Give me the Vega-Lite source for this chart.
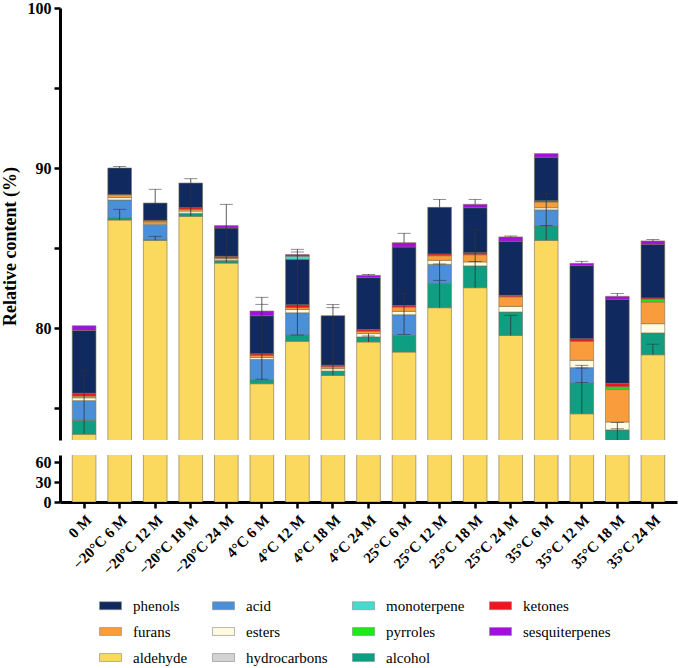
{
  "$schema": "https://vega.github.io/schema/vega-lite/v6.json",
  "padding": {"left": 1, "top": 0, "right": 1, "bottom": 0},
  "background": "white",
  "config": {"view": {"stroke": null}, "axis": {"grid": false},
    "legend": {"labelFont": "Liberation Serif", "labelFontSize": 15, "labelColor": "black"}},
  "datasets": {
    "bars": [
      {"cat":"0 M","compound":"aldehyde","value":73.36},{"cat":"0 M","compound":"alcohol","value":0.87},{"cat":"0 M","compound":"acid","value":1.23},{"cat":"0 M","compound":"esters","value":0.18},{"cat":"0 M","compound":"furans","value":0.11},{"cat":"0 M","compound":"ketones","value":0.17},{"cat":"0 M","compound":"phenols","value":3.93},{"cat":"0 M","compound":"sesquiterpenes","value":0.29},
      {"cat":"−20°C 6 M","compound":"aldehyde","value":86.75},{"cat":"−20°C 6 M","compound":"alcohol","value":0.15},{"cat":"−20°C 6 M","compound":"acid","value":1.1},{"cat":"−20°C 6 M","compound":"esters","value":0.15},{"cat":"−20°C 6 M","compound":"furans","value":0.18},{"cat":"−20°C 6 M","compound":"phenols","value":1.67},
      {"cat":"−20°C 12 M","compound":"aldehyde","value":85.48},{"cat":"−20°C 12 M","compound":"alcohol","value":0.05},{"cat":"−20°C 12 M","compound":"acid","value":0.95},{"cat":"−20°C 12 M","compound":"esters","value":0.08},{"cat":"−20°C 12 M","compound":"furans","value":0.12},{"cat":"−20°C 12 M","compound":"ketones","value":0.05},{"cat":"−20°C 12 M","compound":"phenols","value":1.08},
      {"cat":"−20°C 18 M","compound":"aldehyde","value":86.98},{"cat":"−20°C 18 M","compound":"alcohol","value":0.19},{"cat":"−20°C 18 M","compound":"esters","value":0.14},{"cat":"−20°C 18 M","compound":"furans","value":0.11},{"cat":"−20°C 18 M","compound":"ketones","value":0.1},{"cat":"−20°C 18 M","compound":"phenols","value":1.54},
      {"cat":"−20°C 24 M","compound":"aldehyde","value":84.06},{"cat":"−20°C 24 M","compound":"alcohol","value":0.17},{"cat":"−20°C 24 M","compound":"esters","value":0.1},{"cat":"−20°C 24 M","compound":"furans","value":0.05},{"cat":"−20°C 24 M","compound":"ketones","value":0.1},{"cat":"−20°C 24 M","compound":"phenols","value":1.77},{"cat":"−20°C 24 M","compound":"sesquiterpenes","value":0.15},
      {"cat":"4°C 6 M","compound":"aldehyde","value":76.52},{"cat":"4°C 6 M","compound":"alcohol","value":0.25},{"cat":"4°C 6 M","compound":"acid","value":1.27},{"cat":"4°C 6 M","compound":"esters","value":0.12},{"cat":"4°C 6 M","compound":"furans","value":0.13},{"cat":"4°C 6 M","compound":"ketones","value":0.1},{"cat":"4°C 6 M","compound":"phenols","value":2.38},{"cat":"4°C 6 M","compound":"sesquiterpenes","value":0.29},
      {"cat":"4°C 12 M","compound":"aldehyde","value":79.17},{"cat":"4°C 12 M","compound":"alcohol","value":0.39},{"cat":"4°C 12 M","compound":"acid","value":1.39},{"cat":"4°C 12 M","compound":"esters","value":0.21},{"cat":"4°C 12 M","compound":"furans","value":0.12},{"cat":"4°C 12 M","compound":"ketones","value":0.17},{"cat":"4°C 12 M","compound":"phenols","value":2.84},{"cat":"4°C 12 M","compound":"monoterpene","value":0.2},{"cat":"4°C 12 M","compound":"sesquiterpenes","value":0.1},
      {"cat":"4°C 18 M","compound":"aldehyde","value":77.04},{"cat":"4°C 18 M","compound":"alcohol","value":0.27},{"cat":"4°C 18 M","compound":"esters","value":0.15},{"cat":"4°C 18 M","compound":"furans","value":0.12},{"cat":"4°C 18 M","compound":"ketones","value":0.09},{"cat":"4°C 18 M","compound":"phenols","value":3.1},
      {"cat":"4°C 24 M","compound":"aldehyde","value":79.13},{"cat":"4°C 24 M","compound":"alcohol","value":0.31},{"cat":"4°C 24 M","compound":"esters","value":0.21},{"cat":"4°C 24 M","compound":"furans","value":0.15},{"cat":"4°C 24 M","compound":"ketones","value":0.1},{"cat":"4°C 24 M","compound":"phenols","value":3.25},{"cat":"4°C 24 M","compound":"sesquiterpenes","value":0.14},
      {"cat":"25°C 6 M","compound":"aldehyde","value":78.5},{"cat":"25°C 6 M","compound":"alcohol","value":1.04},{"cat":"25°C 6 M","compound":"acid","value":1.29},{"cat":"25°C 6 M","compound":"esters","value":0.21},{"cat":"25°C 6 M","compound":"furans","value":0.27},{"cat":"25°C 6 M","compound":"ketones","value":0.09},{"cat":"25°C 6 M","compound":"phenols","value":3.66},{"cat":"25°C 6 M","compound":"sesquiterpenes","value":0.27},
      {"cat":"25°C 12 M","compound":"aldehyde","value":81.27},{"cat":"25°C 12 M","compound":"alcohol","value":1.52},{"cat":"25°C 12 M","compound":"acid","value":1.19},{"cat":"25°C 12 M","compound":"esters","value":0.25},{"cat":"25°C 12 M","compound":"furans","value":0.29},{"cat":"25°C 12 M","compound":"ketones","value":0.11},{"cat":"25°C 12 M","compound":"phenols","value":2.91},
      {"cat":"25°C 18 M","compound":"aldehyde","value":82.52},{"cat":"25°C 18 M","compound":"alcohol","value":1.36},{"cat":"25°C 18 M","compound":"esters","value":0.25},{"cat":"25°C 18 M","compound":"furans","value":0.45},{"cat":"25°C 18 M","compound":"ketones","value":0.13},{"cat":"25°C 18 M","compound":"phenols","value":2.81},{"cat":"25°C 18 M","compound":"sesquiterpenes","value":0.21},
      {"cat":"25°C 24 M","compound":"aldehyde","value":79.54},{"cat":"25°C 24 M","compound":"alcohol","value":1.46},{"cat":"25°C 24 M","compound":"esters","value":0.35},{"cat":"25°C 24 M","compound":"furans","value":0.6},{"cat":"25°C 24 M","compound":"ketones","value":0.09},{"cat":"25°C 24 M","compound":"phenols","value":3.38},{"cat":"25°C 24 M","compound":"sesquiterpenes","value":0.27},
      {"cat":"35°C 6 M","compound":"aldehyde","value":85.48},{"cat":"35°C 6 M","compound":"alcohol","value":0.9},{"cat":"35°C 6 M","compound":"acid","value":1.0},{"cat":"35°C 6 M","compound":"esters","value":0.14},{"cat":"35°C 6 M","compound":"furans","value":0.36},{"cat":"35°C 6 M","compound":"ketones","value":0.08},{"cat":"35°C 6 M","compound":"phenols","value":2.71},{"cat":"35°C 6 M","compound":"sesquiterpenes","value":0.23},
      {"cat":"35°C 12 M","compound":"aldehyde","value":74.64},{"cat":"35°C 12 M","compound":"alcohol","value":1.92},{"cat":"35°C 12 M","compound":"acid","value":0.96},{"cat":"35°C 12 M","compound":"esters","value":0.46},{"cat":"35°C 12 M","compound":"furans","value":1.19},{"cat":"35°C 12 M","compound":"ketones","value":0.16},{"cat":"35°C 12 M","compound":"phenols","value":4.57},{"cat":"35°C 12 M","compound":"sesquiterpenes","value":0.14},
      {"cat":"35°C 18 M","compound":"aldehyde","value":72.3},{"cat":"35°C 18 M","compound":"alcohol","value":1.33},{"cat":"35°C 18 M","compound":"esters","value":0.5},{"cat":"35°C 18 M","compound":"furans","value":2.04},{"cat":"35°C 18 M","compound":"pyrroles","value":0.16},{"cat":"35°C 18 M","compound":"ketones","value":0.21},{"cat":"35°C 18 M","compound":"phenols","value":5.25},{"cat":"35°C 18 M","compound":"sesquiterpenes","value":0.19},
      {"cat":"35°C 24 M","compound":"aldehyde","value":78.33},{"cat":"35°C 24 M","compound":"alcohol","value":1.36},{"cat":"35°C 24 M","compound":"esters","value":0.58},{"cat":"35°C 24 M","compound":"furans","value":1.36},{"cat":"35°C 24 M","compound":"pyrroles","value":0.17},{"cat":"35°C 24 M","compound":"ketones","value":0.08},{"cat":"35°C 24 M","compound":"phenols","value":3.35},{"cat":"35°C 24 M","compound":"sesquiterpenes","value":0.21}
    ],
    "err": [
      {"cat":"0 M","lo":73.4,"hi":77.37},
      {"cat":"−20°C 6 M","lo":90.0,"hi":90.1},{"cat":"−20°C 6 M","lo":86.77,"hi":87.42},
      {"cat":"−20°C 12 M","lo":87.81,"hi":88.67},{"cat":"−20°C 12 M","lo":85.48,"hi":85.73},
      {"cat":"−20°C 18 M","lo":87.0,"hi":89.33},
      {"cat":"−20°C 24 M","lo":84.1,"hi":87.73},
      {"cat":"4°C 6 M","lo":76.77,"hi":81.92},
      {"cat":"4°C 12 M","lo":79.56,"hi":84.92},
      {"cat":"4°C 18 M","lo":77.05,"hi":81.46},
      {"cat":"4°C 24 M","lo":83.29,"hi":83.35},{"cat":"4°C 24 M","lo":79.13,"hi":79.65},
      {"cat":"25°C 6 M","lo":85.33,"hi":85.92},{"cat":"25°C 6 M","lo":79.6,"hi":82.15},
      {"cat":"25°C 12 M","lo":87.54,"hi":88.04},{"cat":"25°C 12 M","lo":81.27,"hi":84.2},
      {"cat":"25°C 18 M","lo":87.73,"hi":88.04},{"cat":"25°C 18 M","lo":82.52,"hi":86.17},
      {"cat":"25°C 24 M","lo":85.69,"hi":85.75},{"cat":"25°C 24 M","lo":79.54,"hi":80.79},
      {"cat":"35°C 6 M","lo":85.48,"hi":88.39},
      {"cat":"35°C 12 M","lo":84.04,"hi":84.17},{"cat":"35°C 12 M","lo":74.64,"hi":77.67},
      {"cat":"35°C 18 M","lo":81.98,"hi":82.15},{"cat":"35°C 18 M","lo":73.0,"hi":74.1},
      {"cat":"35°C 24 M","lo":85.44,"hi":85.53},{"cat":"35°C 24 M","lo":78.33,"hi":78.99}
    ],
    "caps": [
      {"cat":"0 M","v":77.37},
      {"cat":"−20°C 6 M","v":90.1},{"cat":"−20°C 6 M","v":87.42},
      {"cat":"−20°C 12 M","v":88.67},{"cat":"−20°C 12 M","v":85.73},
      {"cat":"−20°C 18 M","v":89.33},
      {"cat":"−20°C 24 M","v":87.73},
      {"cat":"4°C 6 M","v":81.92},{"cat":"4°C 6 M","v":81.48},{"cat":"4°C 6 M","v":76.8},
      {"cat":"4°C 12 M","v":84.92},{"cat":"4°C 12 M","v":84.75},{"cat":"4°C 12 M","v":79.56},
      {"cat":"4°C 18 M","v":81.46},{"cat":"4°C 18 M","v":81.27},
      {"cat":"4°C 24 M","v":83.35},{"cat":"4°C 24 M","v":79.5},
      {"cat":"25°C 6 M","v":85.92},{"cat":"25°C 6 M","v":82.15},{"cat":"25°C 6 M","v":79.6},
      {"cat":"25°C 12 M","v":88.04},{"cat":"25°C 12 M","v":84.0},{"cat":"25°C 12 M","v":82.98},
      {"cat":"25°C 18 M","v":88.04},{"cat":"25°C 18 M","v":86.17},{"cat":"25°C 18 M","v":84.15},
      {"cat":"25°C 24 M","v":85.75},{"cat":"25°C 24 M","v":80.79},
      {"cat":"35°C 6 M","v":88.39},{"cat":"35°C 6 M","v":86.4},
      {"cat":"35°C 12 M","v":84.17},{"cat":"35°C 12 M","v":77.67},{"cat":"35°C 12 M","v":77.5},{"cat":"35°C 12 M","v":76.6},
      {"cat":"35°C 18 M","v":82.15},{"cat":"35°C 18 M","v":74.1},{"cat":"35°C 18 M","v":73.7},
      {"cat":"35°C 24 M","v":85.53},{"cat":"35°C 24 M","v":78.99}
    ]
  },
  "bounds": "flush",
  "spacing": 15,
  "vconcat": [
    {
      "width": 617,
      "height": 432,
      "layer": [
        {
          "data": {"name": "bars"},
          "transform": [{"calculate": "indexof(['aldehyde','alcohol','hydrocarbons','acid','esters','furans','pyrroles','ketones','phenols','monoterpene','sesquiterpenes'], datum.compound)", "as": "ord"}],
          "mark": {"type": "bar", "clip": true, "stroke": "#7a7050", "strokeWidth": 0.6},
          "encoding": {
            "x": {"field": "cat", "type": "nominal", "scale": {"domain": ["0 M","−20°C 6 M","−20°C 12 M","−20°C 18 M","−20°C 24 M","4°C 6 M","4°C 12 M","4°C 18 M","4°C 24 M","25°C 6 M","25°C 12 M","25°C 18 M","25°C 24 M","35°C 6 M","35°C 12 M","35°C 18 M","35°C 24 M"], "paddingInner": 0.334, "paddingOuter": 0.345}, "axis": null},
            "y": {"field": "value", "type": "quantitative", "stack": "zero", "scale": {"domain": [73, 100], "zero": false, "nice": false},
              "axis": {"values": [75, 80, 85, 90, 95, 100], "labelExpr": "datum.value % 10 == 0 ? datum.label : ''", "title": "Relative content (%)", "titleFont": "Liberation Serif", "titleFontSize": 18, "titleFontWeight": "bold", "titleColor": "black", "titlePadding": 8, "titleY": 238, "labelFont": "Liberation Serif", "labelFontSize": 16, "labelFontWeight": "bold", "labelColor": "black", "labelPadding": 3, "tickSize": 6, "tickWidth": 2.5, "tickColor": "black", "domainWidth": 3, "domainColor": "black"}},
            "color": {"field": "compound", "type": "nominal",
              "scale": {"domain": ["phenols","furans","aldehyde","acid","esters","hydrocarbons","monoterpene","pyrroles","alcohol","ketones","sesquiterpenes"], "range": ["#10295e","#f89c3c","#fbd95e","#4a8fd8","#fffbe3","#d3d3d3","#45dccf","#22e61e","#0f9e82","#f0141e","#a310dc"]},
              "legend": {"orient": "none", "legendX": 39, "legendY": 586, "columns": 4, "title": null, "symbolType": "M-1,-0.36H1V0.36H-1Z", "symbolSize": 484, "symbolStrokeColor": "#888", "symbolStrokeWidth": 0.6, "symbolOpacity": 1, "labelFont": "Liberation Serif", "labelFontSize": 15, "labelColor": "black", "labelOffset": 11, "columnPadding": 23, "rowPadding": 6,
                "encode": {"labels": {"update": {"font": {"value": "Liberation Serif"}, "fontSize": {"value": 15}, "fill": {"value": "black"}}}}}},
            "order": {"field": "ord", "type": "quantitative"}
          }
        },
        {
          "data": {"name": "err"},
          "mark": {"type": "rule", "color": "#333", "strokeWidth": 0.8},
          "encoding": {
            "x": {"field": "cat", "type": "nominal", "axis": null},
            "y": {"field": "lo", "type": "quantitative",
              "axis": {"values": [75, 80, 85, 90, 95, 100], "labelExpr": "datum.value % 10 == 0 ? datum.label : ''", "title": "Relative content (%)", "titleFont": "Liberation Serif", "titleFontSize": 18, "titleFontWeight": "bold", "titleColor": "black", "titlePadding": 8, "titleY": 238, "labelFont": "Liberation Serif", "labelFontSize": 16, "labelFontWeight": "bold", "labelColor": "black", "labelPadding": 3, "tickSize": 6, "tickWidth": 2.5, "tickColor": "black", "domainWidth": 3, "domainColor": "black"}},
            "y2": {"field": "hi"}
          }
        },
        {
          "data": {"name": "caps"},
          "mark": {"type": "tick", "color": "#333", "thickness": 0.8, "size": 13},
          "encoding": {
            "x": {"field": "cat", "type": "nominal", "axis": null},
            "y": {"field": "v", "type": "quantitative",
              "axis": {"values": [75, 80, 85, 90, 95, 100], "labelExpr": "datum.value % 10 == 0 ? datum.label : ''", "title": "Relative content (%)", "titleFont": "Liberation Serif", "titleFontSize": 18, "titleFontWeight": "bold", "titleColor": "black", "titlePadding": 8, "titleY": 238, "labelFont": "Liberation Serif", "labelFontSize": 16, "labelFontWeight": "bold", "labelColor": "black", "labelPadding": 3, "tickSize": 6, "tickWidth": 2.5, "tickColor": "black", "domainWidth": 3, "domainColor": "black"}}
          }
        }
      ]
    },
    {
      "width": 617,
      "height": 47,
      "data": {"name": "bars"},
      "transform": [{"calculate": "indexof(['aldehyde','alcohol','hydrocarbons','acid','esters','furans','pyrroles','ketones','phenols','monoterpene','sesquiterpenes'], datum.compound)", "as": "ord"}],
      "mark": {"type": "bar", "clip": true, "stroke": "#7a7050", "strokeWidth": 0.6},
      "encoding": {
        "x": {"field": "cat", "type": "nominal", "scale": {"domain": ["0 M","−20°C 6 M","−20°C 12 M","−20°C 18 M","−20°C 24 M","4°C 6 M","4°C 12 M","4°C 18 M","4°C 24 M","25°C 6 M","25°C 12 M","25°C 18 M","25°C 24 M","35°C 6 M","35°C 12 M","35°C 18 M","35°C 24 M"], "paddingInner": 0.334, "paddingOuter": 0.345},
          "axis": {"title": null, "labelAngle": -45, "labelFont": "Liberation Serif", "labelFontSize": 15, "labelFontWeight": "bold", "labelColor": "black", "labelPadding": 4, "tickSize": 6, "tickWidth": 2.5, "tickColor": "black", "domainWidth": 3, "domainColor": "black"}},
        "y": {"field": "value", "type": "quantitative", "stack": "zero", "scale": {"domain": [0, 71], "nice": false},
          "axis": {"values": [0, 30, 60], "title": null, "labelFont": "Liberation Serif", "labelFontSize": 16, "labelFontWeight": "bold", "labelColor": "black", "labelPadding": 3, "tickSize": 6, "tickWidth": 2.5, "tickColor": "black", "domainWidth": 3, "domainColor": "black"}},
        "color": {"field": "compound", "type": "nominal", "legend": {"orient": "none", "legendX": 39, "legendY": 586, "columns": 4, "title": null, "symbolType": "M-1,-0.36H1V0.36H-1Z", "symbolSize": 484, "symbolStrokeColor": "#888", "symbolStrokeWidth": 0.6, "symbolOpacity": 1, "labelFont": "Liberation Serif", "labelFontSize": 15, "labelColor": "black", "labelOffset": 11, "columnPadding": 23, "rowPadding": 6,
          "encode": {"labels": {"update": {"font": {"value": "Liberation Serif"}, "fontSize": {"value": 15}, "fill": {"value": "black"}}}}}},
        "order": {"field": "ord", "type": "quantitative"}
      }
    }
  ]
}
